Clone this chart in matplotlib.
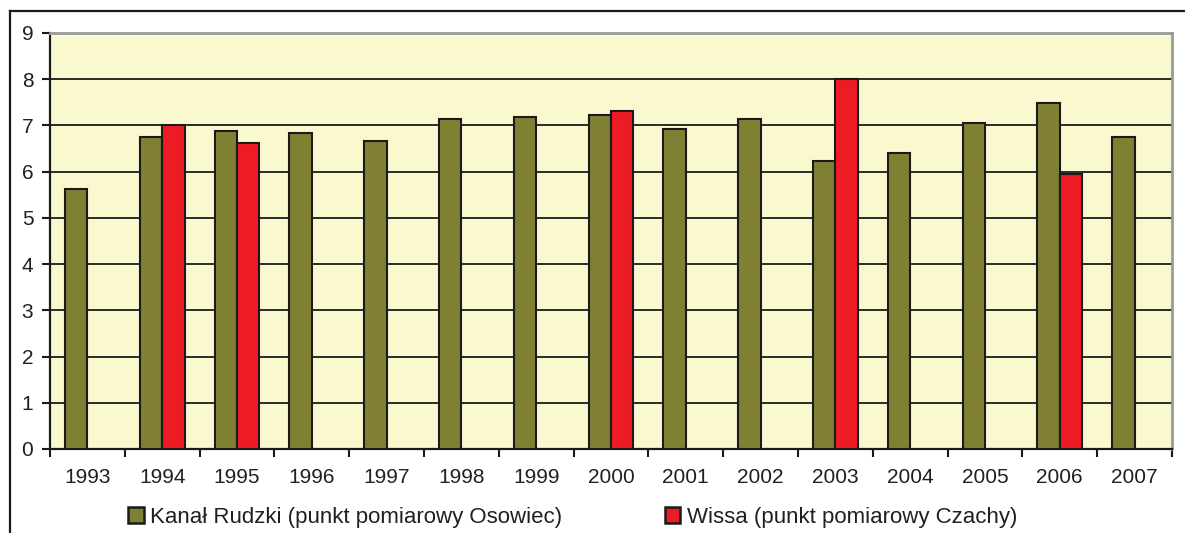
import numpy as np
import matplotlib.pyplot as plt
from matplotlib.lines import Line2D

plt.rcParams['font.family'] = ['Liberation Sans', 'DejaVu Sans']

years = ['1993', '1994', '1995', '1996', '1997', '1998', '1999', '2000',
         '2001', '2002', '2003', '2004', '2005', '2006', '2007']
rudzki = [5.62, 6.76, 6.88, 6.84, 6.67, 7.15, 7.19, 7.23,
          6.93, 7.15, 6.24, 6.41, 7.06, 7.49, 6.76]
wissa = [np.nan, 7.0, 6.63, np.nan, np.nan, np.nan, np.nan, 7.32,
         np.nan, np.nan, 8.01, np.nan, np.nan, 5.94, np.nan]
labels = ['Kanał Rudzki (punkt pomiarowy Osowiec)',
          'Wissa (punkt pomiarowy Czachy)']

GREEN = '#808033'
RED = '#ED1C24'
BG = '#FAF8CE'

W, H = 1185, 533
fig = plt.figure(figsize=(W/100, H/100), dpi=100)
ax = fig.add_axes([50/W, 1 - 449/H, (1172 - 50)/W, (449 - 33)/H])
ax.set_facecolor(BG)

x = np.arange(len(years))
bw = 0.3
ax.bar(x - bw/2, rudzki, bw, color=GREEN, edgecolor='#1a1a1a', linewidth=1.5,
       zorder=3, label=labels[0])
ax.bar(x + bw/2, wissa, bw, color=RED, edgecolor='#1a1a1a', linewidth=1.5,
       zorder=3, label=labels[1])

ax.set_xlim(-0.5, len(years) - 0.5)
ax.set_ylim(0, 9)
ax.set_yticks(range(0, 10))
ax.yaxis.grid(True, color='#2b2b2b', linewidth=1.4, zorder=1)
ax.set_axisbelow(True)

ax.set_xticks(x)
ax.set_xticklabels(years, fontsize=15, color='#231f20')
ax.tick_params(axis='x', length=0, pad=14)
ax.set_xticks(np.arange(-0.5, len(years)), minor=True)
ax.tick_params(axis='x', which='minor', length=6, width=1.5, color='#1a1a1a')
ax.tick_params(axis='y', length=6, width=1.5, color='#1a1a1a',
               labelsize=15, labelcolor='#231f20', pad=6)

for side in ['top', 'right']:
    ax.spines[side].set_color('#9a9a9a')
    ax.spines[side].set_linewidth(2)
for side in ['left', 'bottom']:
    ax.spines[side].set_color('#1a1a1a')
    ax.spines[side].set_linewidth(1.6)

# outer frame (cut at right and bottom)
fig.add_artist(Line2D([10/W, 1.0], [1 - 11/H, 1 - 11/H], color='#1a1a1a',
                      linewidth=1.6, transform=fig.transFigure))
fig.add_artist(Line2D([10/W, 10/W], [0.0, 1 - 11/H], color='#1a1a1a',
                      linewidth=1.6, transform=fig.transFigure))

leg = fig.legend(loc='center left', bbox_to_anchor=(128/W, 1 - 517/H),
                 ncol=2, frameon=False, fontsize=16, handlelength=0.7,
                 handleheight=0.7, handletextpad=0.3, columnspacing=4.6,
                 labelcolor='#231f20', borderaxespad=0, borderpad=0)
for h in leg.legend_handles:
    h.set_linewidth(1.8)

fig.savefig('out.png', dpi=100, facecolor='white')
